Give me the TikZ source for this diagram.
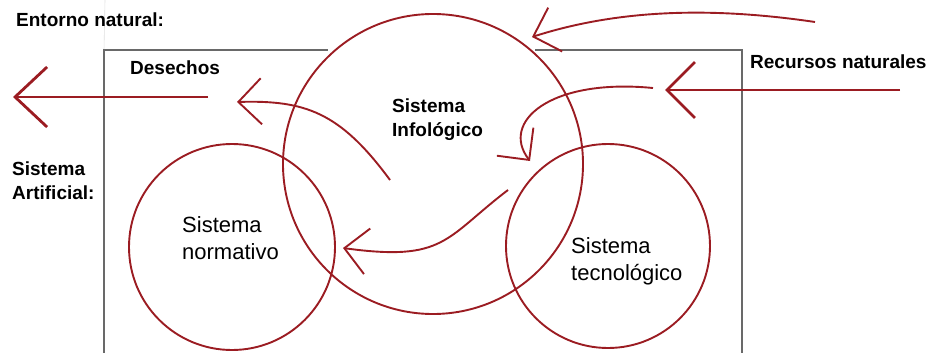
\documentclass[tikz,border=0pt]{standalone}
\usepackage{fontspec}
\setmainfont{Liberation Sans}
\usetikzlibrary{arrows.meta}
\definecolor{rojo}{RGB}{155,28,34}
\definecolor{marco}{RGB}{105,105,105}
\begin{document}
\begin{tikzpicture}[x=1pt,y=-1pt,
    sis/.style={draw=rojo,line width=1.9pt,circle,inner sep=0pt},
    etiq/.style={anchor=west,align=left,inner sep=0pt,font=\bfseries\fontsize{19}{24}\selectfont},
    texto/.style={anchor=west,align=left,inner sep=0pt,font=\fontsize{22}{27}\selectfont},
    flujo/.style={draw=rojo,line width=1.9pt,-{Straight Barb[length=23pt,width=46pt]}},
    grueso/.style={draw=rojo,line width=2.8pt}]

    \useasboundingbox (0,0) rectangle (930,353);

    % the frame
    \coordinate (r1) at (104,353);
    \coordinate (r2) at (104,50);
    \coordinate (r3) at (328,50);
    \coordinate (r4) at (535,50);
    \coordinate (r5) at (742,50);
    \coordinate (r6) at (742,353);
    \coordinate (g0) at (105,0);
    \draw[gray!25,line width=0.6pt] (g0) -- (r2);
    \draw[marco,line width=1.7pt] (r1) -- (r2) -- (r3);
    \draw[marco,line width=1.7pt] (r4) -- (r5) -- (r6);

    % the systems
    \node[sis,minimum size=300pt] (info) at (433,164) {};
    \node[sis,minimum size=206pt] (norm) at (232,247) {};
    \node[sis,minimum size=204pt] (tec) at (608,246) {};

    % the texts
    \node[etiq] (entorno) at (16,20) {Entorno natural:};
    \node[etiq] (desechos) at (130,68) {Desechos};
    \node[etiq] (recursos) at (750,62) {Recursos naturales};
    \node[etiq] (artificial) at (12,181) {Sistema\\Artificial:};
    \node[etiq] (infotxt) at (392,120) {Sistema\\Infológico};
    \node[texto] (normtxt) at (182,238) {Sistema\\normativo};
    \node[texto] (tectxt) at (571,261) {Sistema\\tecnológico};

    % the flows
    \coordinate (d1) at (208,97);
    \coordinate (d2) at (13,97);
    \coordinate (n1) at (900,90);
    \coordinate (n2) at (665,90);
    \draw[grueso,-{Straight Barb[length=32pt,width=60pt]}] (d1) -- (d2);
    \draw[grueso,-{Straight Barb[length=28pt,width=56pt]}] (n1) -- (n2);

    \coordinate (a1) at (815,22);
    \coordinate (a2) at (532,37);
    \coordinate (b1) at (653,88);
    \coordinate (b2) at (530,161);
    \coordinate (c1) at (390,180);
    \coordinate (c2) at (237,102);
    \coordinate (e1) at (508,190);
    \coordinate (e2) at (343,248);
    \draw[flujo] (a1) .. controls (700,5) and (610,12) .. (a2);
    \draw[flujo] (b1) .. controls (550,78) and (500,122) .. (b2);
    \draw[flujo] (c1) .. controls (340,112) and (305,100) .. (c2);
    \draw[flujo] (e1) .. controls (445,238) and (445,262) .. (e2);
\end{tikzpicture}
\end{document}
